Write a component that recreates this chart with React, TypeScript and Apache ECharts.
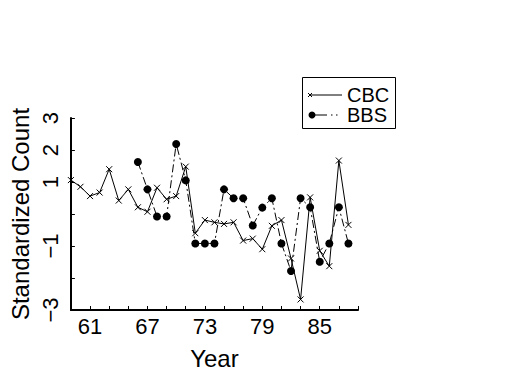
import React, { useEffect, useRef } from "react";
import * as echarts from "echarts";

const cbcYears = [59, 60, 61, 62, 63, 64, 65, 66, 67, 68, 69, 70, 71, 72, 73, 74, 75, 76, 77, 78, 79, 80, 81, 82, 83, 84, 85, 86, 87, 88];
const cbcValues = [1.06, 0.85, 0.56, 0.67, 1.4, 0.42, 0.77, 0.21, 0.07, 0.82, 0.46, 0.56, 1.48, -0.6, -0.19, -0.26, -0.31, -0.26, -0.83, -0.77, -1.1, -0.37, -0.19, -1.39, -2.67, 0.52, -1.15, -1.63, 1.67, -0.34];
const bbsYears = [66, 67, 68, 69, 70, 71, 72, 73, 74, 75, 76, 77, 78, 79, 80, 81, 82, 83, 84, 85, 86, 87, 88];
const bbsValues = [1.625, 0.77, -0.08, -0.08, 2.19, 1.05, -0.92, -0.92, -0.92, 0.77, 0.49, 0.49, -0.36, 0.2, 0.49, -0.92, -1.78, 0.49, 0.21, -1.49, -0.92, 0.21, -0.92];
const xTickLabels = [61, 67, 73, 79, 85];
const yTickLabels = [3, 2, 1, -1, -3];
const seriesNames = ["CBC", "BBS"];

const FONT = "Liberation Sans";
const X_SYMBOL = "path://M0,0L10,10M10,0L0,10";

export default function App() {
  const ref = useRef<HTMLDivElement>(null);
  useEffect(() => {
    if (!ref.current) return;
    const chart = echarts.init(ref.current, null, { renderer: "svg" });
    chart.setOption({
      animation: false,
      backgroundColor: "#ffffff",
      textStyle: { fontFamily: FONT, color: "#000" },
      grid: { left: 68, top: 118, width: 290, height: 192, containLabel: false },
      xAxis: {
        type: "value",
        min: 59,
        max: 89,
        interval: 2,
        name: "Year",
        nameLocation: "middle",
        nameGap: 36,
        nameTextStyle: { fontFamily: FONT, fontSize: 24, color: "#000" },
        axisLine: { show: true, onZero: false, lineStyle: { color: "#000", width: 2 } },
        axisTick: { show: true, inside: true, length: 4, lineStyle: { color: "#000", width: 1 } },
        splitLine: { show: false },
        axisLabel: {
          margin: 5,
          fontFamily: FONT,
          fontSize: 22,
          color: "#000",
          formatter: (v: number) => (xTickLabels.includes(Math.round(v)) ? String(Math.round(v)) : ""),
        },
      },
      yAxis: {
        type: "value",
        min: -3,
        max: 3,
        interval: 1,
        name: "Standardized Count",
        nameLocation: "middle",
        nameGap: 36,
        nameRotate: 90,
        nameTextStyle: { fontFamily: FONT, fontSize: 24, color: "#000", letterSpacing: 0.6 },
        axisLine: { show: true, onZero: false, lineStyle: { color: "#000", width: 2 } },
        axisTick: { show: true, inside: true, length: 4, lineStyle: { color: "#000", width: 1 } },
        splitLine: { show: false },
        axisLabel: {
          rotate: 90,
          margin: 9,
          fontFamily: FONT,
          fontSize: 22,
          color: "#000",
          formatter: (v: number) =>
            yTickLabels.includes(Math.round(v)) ? (v < 0 ? "\u2212" + Math.abs(Math.round(v)) : String(Math.round(v))) : "",
        },
      },
      series: [
        {
          name: seriesNames[0],
          type: "line",
          data: cbcYears.map((y, i) => [y, cbcValues[i]]),
          symbol: X_SYMBOL,
          symbolSize: 6,
          showAllSymbol: true,
          lineStyle: { color: "#000", width: 1, type: "solid" },
          itemStyle: { color: "rgba(0,0,0,0)", borderColor: "#000", borderWidth: 1 },
          z: 3,
        },
        {
          name: seriesNames[1],
          type: "line",
          data: bbsYears.map((y, i) => [y, bbsValues[i]]),
          symbol: "circle",
          symbolSize: 8,
          showAllSymbol: true,
          lineStyle: { color: "#000", width: 1, type: [8, 3, 2, 3] },
          itemStyle: { color: "#000", borderWidth: 0 },
          z: 2,
        },
      ],
      graphic: [
        {
          type: "rect",
          shape: { x: 302.5, y: 77.5, width: 93, height: 51 },
          style: { fill: "#fff", stroke: "#000", lineWidth: 1 },
          z: 10,
        },
        { type: "line", shape: { x1: 310, y1: 95, x2: 342, y2: 95 }, style: { stroke: "#000", lineWidth: 1 }, z: 11 },
        { type: "line", shape: { x1: 308, y1: 93, x2: 312, y2: 97 }, style: { stroke: "#000", lineWidth: 1 }, z: 11 },
        { type: "line", shape: { x1: 312, y1: 93, x2: 308, y2: 97 }, style: { stroke: "#000", lineWidth: 1 }, z: 11 },
        {
          type: "text",
          x: 347,
          y: 95,
          style: { text: seriesNames[0], fontFamily: FONT, fontSize: 20, fill: "#000", textVerticalAlign: "middle", verticalAlign: "middle" },
          z: 11,
        },
        { type: "circle", shape: { cx: 312, cy: 115, r: 3.5 }, style: { fill: "#000" }, z: 11 },
        { type: "line", shape: { x1: 312, y1: 115, x2: 327, y2: 115 }, style: { stroke: "#000", lineWidth: 1 }, z: 11 },
        { type: "rect", shape: { x: 331, y: 114.5, width: 1.5, height: 1 }, style: { fill: "#000" }, z: 11 },
        { type: "rect", shape: { x: 336, y: 114.5, width: 1.5, height: 1 }, style: { fill: "#000" }, z: 11 },
        {
          type: "text",
          x: 347,
          y: 115,
          style: { text: seriesNames[1], fontFamily: FONT, fontSize: 20, fill: "#000", textVerticalAlign: "middle", verticalAlign: "middle" },
          z: 11,
        },
      ],
    });
    return () => chart.dispose();
  }, []);
  return (
    <div
      ref={ref}
      style={{ position: "fixed", left: 0, top: 0, width: 525, height: 375, background: "#fff" }}
    />
  );
}
